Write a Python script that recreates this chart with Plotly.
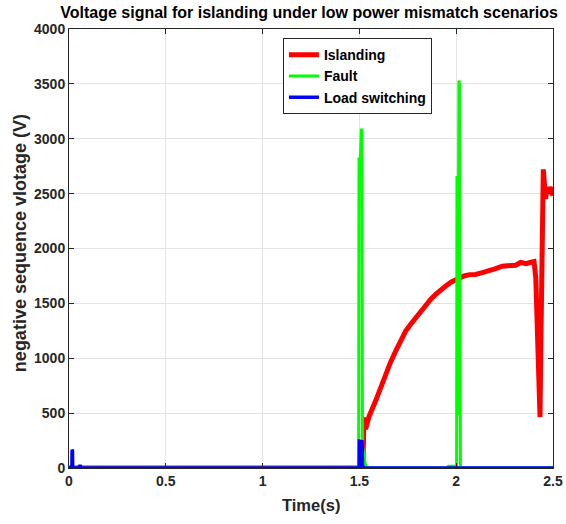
import plotly.graph_objects as go

# ---------------- data ----------------
isl_t = [0.0, 1.518, 1.522, 1.528, 1.532, 1.55, 1.584, 1.61, 1.636, 1.66, 1.688, 1.71,
         1.739, 1.765, 1.791, 1.82, 1.843, 1.87, 1.894, 1.92, 1.946, 1.975, 1.998, 2.02,
         2.04, 2.07, 2.1, 2.135, 2.169, 2.2, 2.238, 2.27, 2.307, 2.333, 2.36, 2.377,
         2.395, 2.402, 2.411, 2.419, 2.428, 2.433, 2.437, 2.44, 2.445, 2.45, 2.453,
         2.457, 2.462, 2.467, 2.473, 2.479, 2.485, 2.492, 2.5]
isl_v = [0, 0, 330, 460, 355, 470, 612, 740, 855, 960, 1067, 1150,
         1248, 1310, 1370, 1440, 1491, 1540, 1582, 1625, 1658, 1695, 1718, 1738,
         1750, 1762, 1764, 1780, 1794, 1815, 1839, 1842, 1848, 1873, 1862, 1870,
         1885, 1880, 1736, 1373, 770, 464, 1100, 1679, 2434, 2721, 2650,
         2588, 2450, 2555, 2500, 2497, 2560, 2524, 2480]

fault_t = [0.0, 1.496, 1.498, 1.504, 1.51, 1.513, 1.516, 1.522, 1.53, 1.54, 1.95, 1.96,
           1.99, 2.002, 2.004, 2.008, 2.014, 2.017, 2.022, 2.03, 2.5]
fault_v = [0, 0, 2830, 2760, 3080, 3080, 200, 120, 40, 0, 0, 15,
           15, 0, 2660, 480, 3530, 3500, 0, 0, 0]

load_t = [0.0, 0.015, 0.016, 0.018, 0.019, 0.05, 0.057, 0.065, 1.499, 1.5, 1.514,
          1.516, 2.5]
load_v = [0, 0, 165, 160, 0, 0, 25, 0, 0, 245, 240,
          0, 0]

x_ticks = [0, 0.5, 1, 1.5, 2, 2.5]
x_labels = ["0", "0.5", "1", "1.5", "2", "2.5"]
y_ticks = [0, 500, 1000, 1500, 2000, 2500, 3000, 3500, 4000]

FONT = "Arial, Liberation Sans, sans-serif"
AX = "#262626"

fig = go.Figure()
fig.add_trace(go.Scatter(x=isl_t, y=isl_v, mode="lines", name="Islanding",
                         line=dict(color="#ff0000", width=5)))
fig.add_trace(go.Scatter(x=fault_t, y=fault_v, mode="lines", name="Fault",
                         line=dict(color="#00ff00", width=3)))
fig.add_trace(go.Scatter(x=load_t, y=load_v, mode="lines", name="Load switching",
                         line=dict(color="#0000ff", width=3.5)))

axis_common = dict(
    showline=True, linecolor=AX, linewidth=1, mirror="ticks",
    ticks="inside", ticklen=5, tickcolor=AX, tickwidth=1,
    showgrid=True, gridcolor="#e3e3e3", gridwidth=1, zeroline=False,
    automargin=False,
    tickfont=dict(family=FONT, size=14, color="#262626", weight="bold"),
)

fig.update_xaxes(range=[0, 2.5], tickvals=x_ticks, ticktext=x_labels, **axis_common)
fig.update_yaxes(range=[0, 4000], tickvals=y_ticks, **axis_common)

fig.add_annotation(text="Time(s)", xref="paper", yref="paper", x=0.5, y=-0.0843,
                   xanchor="center", yanchor="middle", showarrow=False,
                   font=dict(family=FONT, size=16.5, color="#262626", weight="bold"))
fig.add_annotation(text="negative sequence vlotage (V)", xref="paper", yref="paper",
                   x=-0.101, y=0.5125, xanchor="center", yanchor="middle",
                   textangle=-90, showarrow=False,
                   font=dict(family=FONT, size=18, color="#262626", weight="bold"))

fig.update_layout(
    width=566, height=524,
    margin=dict(l=69, r=13, t=29, b=56, autoexpand=False),
    paper_bgcolor="white", plot_bgcolor="white",
    title=dict(text="Voltage signal for islanding under low power mismatch scenarios",
               x=0.546, xanchor="center", y=0.977, yanchor="middle",
               font=dict(family=FONT, size=16, color="#000000", weight="bold")),
    legend=dict(x=0.442, y=0.979, xanchor="left", yanchor="top",
                bgcolor="white", bordercolor=AX, borderwidth=1,
                font=dict(family=FONT, size=14, color="#000000", weight="bold")),
    showlegend=True,
)

fig.write_html("out.html", config={"displayModeBar": False},
               post_script="document.body.style.margin='0';document.body.style.padding='0';")
